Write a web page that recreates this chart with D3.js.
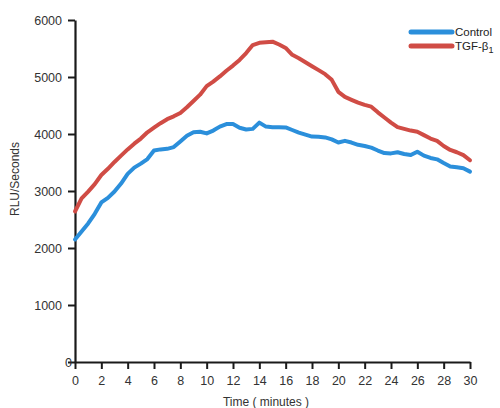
<!DOCTYPE html>
<html>
<head>
<meta charset="utf-8">
<script src="https://cdn.jsdelivr.net/npm/d3@7"></script>
<style>
  body { margin: 0; background: #fff; }
  text { font-family: "Liberation Sans", Arial, sans-serif; }
</style>
</head>
<body>
<script>
// time points every half minute
var times = d3.range(0, 30.5, 0.5);

var control = [2150, 2290, 2430, 2600, 2800, 2880, 2990, 3130, 3300, 3410,
  3480, 3560, 3710, 3730, 3740, 3770, 3870, 3970, 4030, 4040,
  4010, 4060, 4130, 4175, 4175, 4110, 4080, 4090, 4200, 4130,
  4120, 4120, 4115, 4070, 4025, 3990, 3955, 3950, 3940, 3905,
  3850, 3880, 3850, 3810, 3790, 3760, 3710, 3665, 3660, 3680,
  3650, 3630, 3690, 3620, 3580, 3555, 3490, 3430, 3415, 3400, 3340];

var tgf = [2640, 2870, 2990, 3120, 3280, 3390, 3510, 3620, 3730, 3830,
  3920, 4030, 4110, 4190, 4260, 4310, 4370, 4470, 4580, 4690,
  4840, 4920, 5010, 5110, 5200, 5300, 5420, 5560, 5600, 5610,
  5620, 5570, 5510, 5390, 5330, 5260, 5190, 5120, 5050, 4950,
  4740, 4650, 4600, 4550, 4510, 4480, 4380, 4290, 4200, 4120,
  4090, 4060, 4040, 3980, 3920, 3880, 3790, 3720, 3680, 3630, 3540];

var xTicks = d3.range(0, 31, 2);
var yTicks = [0, 1000, 2000, 3000, 4000, 5000, 6000];

var seriesNames = ["Control", "TGF-β1"];
var seriesColors = ["#2b8fdb", "#d04c45"];

var margin = {top: 20, right: 30, bottom: 46, left: 75},
	width = 470 - margin.left,
	height = 362 - margin.top;

var svg = d3.select('body')
	.append('svg')
	.attr('width', 500)
	.attr('height', 408);

var main = svg.append('g')
	.attr('transform', 'translate(' + margin.left + ',' + margin.top + ')');

var x = d3.scaleLinear()
	.domain([0, 30])
	.range([0, width]);

var y = d3.scaleLinear()
	.domain([0, 6000])
	.range([height, 0]);

// axes
var xAxis = d3.axisBottom(x)
	.tickValues(xTicks)
	.tickFormat(d3.format('d'))
	.tickSize(7)
	.tickPadding(7)
	.tickSizeOuter(0);

var yAxis = d3.axisLeft(y)
	.tickValues(yTicks)
	.tickFormat(d3.format('d'))
	.tickSize(7)
	.tickPadding(6)
	.tickSizeOuter(0);

var gx = main.append('g')
	.attr('transform', 'translate(0,' + height + ')')
	.call(xAxis);

var gy = main.append('g')
	.call(yAxis);

[gx, gy].forEach(function(g) {
	g.select('.domain').attr('stroke', '#1a1a1a').attr('stroke-width', 2.2);
	g.selectAll('.tick line').attr('stroke', '#1a1a1a').attr('stroke-width', 2);
	g.selectAll('.tick text')
		.attr('fill', '#333')
		.style('font-size', '12.5px')
		.style('font-family', '"Liberation Sans", Arial, sans-serif');
});

// "0" sits right against the axis in the reference
gy.selectAll('.tick text').filter(function(d) { return d === 0; }).attr('x', -3);

// titles
svg.append('text')
	.attr('text-anchor', 'middle')
	.attr('transform', 'translate(19,179)rotate(-90)')
	.attr('fill', '#333')
	.style('font-size', '12px')
	.text('RLU/Seconds');

svg.append('text')
	.attr('text-anchor', 'middle')
	.attr('x', 266)
	.attr('y', 406)
	.attr('fill', '#333')
	.style('font-size', '12px')
	.text('Time ( minutes )');

// lines
var line = d3.line()
	.x(function(d, i) { return x(times[i]); })
	.y(function(d) { return y(d); });

[control, tgf].forEach(function(s, k) {
	main.append('path')
		.datum(s)
		.attr('fill', 'none')
		.attr('stroke', seriesColors[k])
		.attr('stroke-width', 4)
		.attr('stroke-linejoin', 'round')
		.attr('stroke-linecap', 'round')
		.attr('d', line);
});

// legend
var legend = svg.selectAll('.legend')
	.data(seriesNames)
	.enter().append('g')
	.attr('class', 'legend')
	.attr('transform', function(d, i) { return 'translate(0,' + (32 + i * 14) + ')'; });

legend.append('line')
	.attr('x1', 411)
	.attr('x2', 452)
	.attr('stroke', function(d, i) { return seriesColors[i]; })
	.attr('stroke-width', 5)
	.attr('stroke-linecap', 'round');

legend.append('text')
	.attr('x', 455)
	.attr('y', 4)
	.attr('fill', '#222')
	.style('font-size', '11.5px')
	.each(function(d, i) {
		var t = d3.select(this);
		if (i === 0) {
			t.text(d);
		} else {
			t.text('TGF-β');
			t.append('tspan').attr('dy', 3).style('font-size', '9px').text('1');
		}
	});
</script>
</body>
</html>
